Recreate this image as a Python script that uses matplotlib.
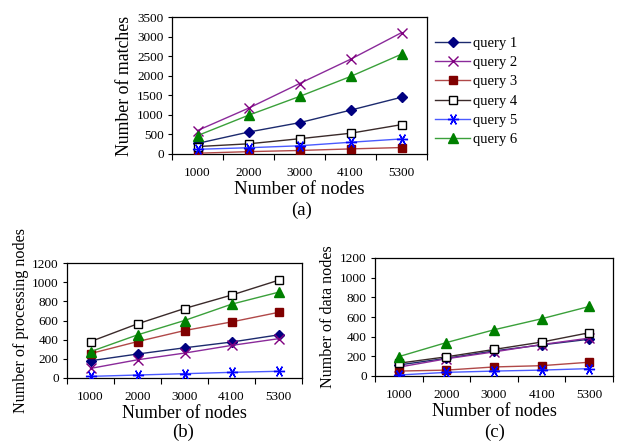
import matplotlib
matplotlib.use("Agg")
import matplotlib.pyplot as plt
from matplotlib.ticker import FixedLocator, NullFormatter, FixedFormatter

plt.rcParams['font.family'] = ['Liberation Serif', 'DejaVu Serif']

nodes = ["1000", "2000", "3000", "4100", "5300"]
series_names = ["query 1", "query 2", "query 3", "query 4", "query 5", "query 6"]

matches = {
    "query 1": [270, 560, 800, 1120, 1450],
    "query 2": [600, 1170, 1800, 2420, 3100],
    "query 3": [20, 60, 90, 130, 165],
    "query 4": [190, 260, 390, 530, 750],
    "query 5": [120, 160, 210, 300, 385],
    "query 6": [470, 990, 1470, 1980, 2550],
}
processing = {
    "query 1": [180, 250, 315, 375, 450],
    "query 2": [100, 190, 260, 340, 410],
    "query 3": [255, 380, 495, 585, 685],
    "query 4": [380, 565, 725, 865, 1020],
    "query 5": [17, 31, 45, 59, 70],
    "query 6": [275, 450, 600, 770, 895],
}
data_nodes = {
    "query 1": [112, 180, 255, 316, 374],
    "query 2": [90, 175, 245, 320, 385],
    "query 3": [50, 60, 92, 105, 140],
    "query 4": [130, 195, 270, 345, 440],
    "query 5": [10, 37, 50, 60, 75],
    "query 6": [197, 340, 470, 582, 707],
}

styles = {
    "query 1": dict(mfc="#000080", mec="#000080", marker="D", ms=5.5, lc="#1c2a6e"),
    "query 2": dict(mfc="none", mec="#800080", marker="x", ms=7, lc="#8a2a9a"),
    "query 3": dict(mfc="#800000", mec="#800000", marker="s", ms=6, lc="#b04848"),
    "query 4": dict(mfc="white", mec="#000000", marker="s", ms=6, lc="#3a2a2a"),
    "query 5": dict(mfc="#0000ff", mec="#0000ff", marker=(6, 2, 90), ms=8, lc="#4a5aff"),
    "query 6": dict(mfc="#008000", mec="#008000", marker="^", ms=7, lc="#3aa03a"),
}

W, H = 621, 445
fig = plt.figure(figsize=(W / 100, H / 100), dpi=100)


def add_ax(left, right, top, bottom):
    return fig.add_axes([left / W, 1 - bottom / H, (right - left) / W, (bottom - top) / H])


def draw(ax, data, ymax, ystep, ylabel, xfs, yfs):
    x = list(range(len(nodes)))
    for name in series_names:
        st = styles[name]
        ax.plot(x, data[name], color=st["lc"], lw=1.0, marker=st["marker"], ms=st["ms"],
                mfc=st["mfc"], mec=st["mec"], mew=1.0, label=name, zorder=3)
    ax.set_xlim(-0.5, len(nodes) - 0.5)
    ax.set_ylim(0, ymax)
    ax.xaxis.set_major_locator(FixedLocator([i - 0.5 for i in range(len(nodes) + 1)]))
    ax.xaxis.set_major_formatter(NullFormatter())
    ax.xaxis.set_minor_locator(FixedLocator(x))
    ax.xaxis.set_minor_formatter(FixedFormatter(nodes))
    ax.tick_params(axis="x", which="major", direction="out", length=4, width=0.8)
    ax.tick_params(axis="x", which="minor", length=0, pad=9, labelsize=9.5)
    ax.set_yticks(list(range(0, ymax + 1, ystep)))
    ax.tick_params(axis="y", direction="out", length=3, width=0.8, labelsize=9.5, pad=3)
    for s in ax.spines.values():
        s.set_linewidth(0.9)
    ax.set_xlabel("Number of nodes", fontsize=xfs, labelpad=2)
    ax.set_ylabel(ylabel, fontsize=yfs, labelpad=3)


ax_a = add_ax(172, 427, 17, 154)
draw(ax_a, matches, 3500, 500, "Number of matches", 13.5, 12.8)
ax_a.legend(loc="upper left", bbox_to_anchor=(1.01, 0.9), frameon=False, fontsize=10.5,
            handlelength=2.4, handletextpad=0.2, labelspacing=0.42, borderaxespad=0)
fig.text(302 / W, 1 - 210 / H, "(a)", ha="center", va="center", fontsize=13.5)

ax_b = add_ax(67, 302, 263, 378)
draw(ax_b, processing, 1200, 200, "Number of processing nodes", 13, 11.6)
ax_b.yaxis.set_label_coords(-0.16, 0.5)
fig.text(183 / W, 1 - 432 / H, "(b)", ha="center", va="center", fontsize=13.5)

ax_c = add_ax(375, 613, 258, 376)
draw(ax_c, data_nodes, 1200, 200, "Number of data nodes", 13, 11.6)
ax_c.yaxis.set_label_coords(-0.165, 0.5)
fig.text(495 / W, 1 - 432 / H, "(c)", ha="center", va="center", fontsize=13.5)

fig.savefig("out.png", dpi=100)
